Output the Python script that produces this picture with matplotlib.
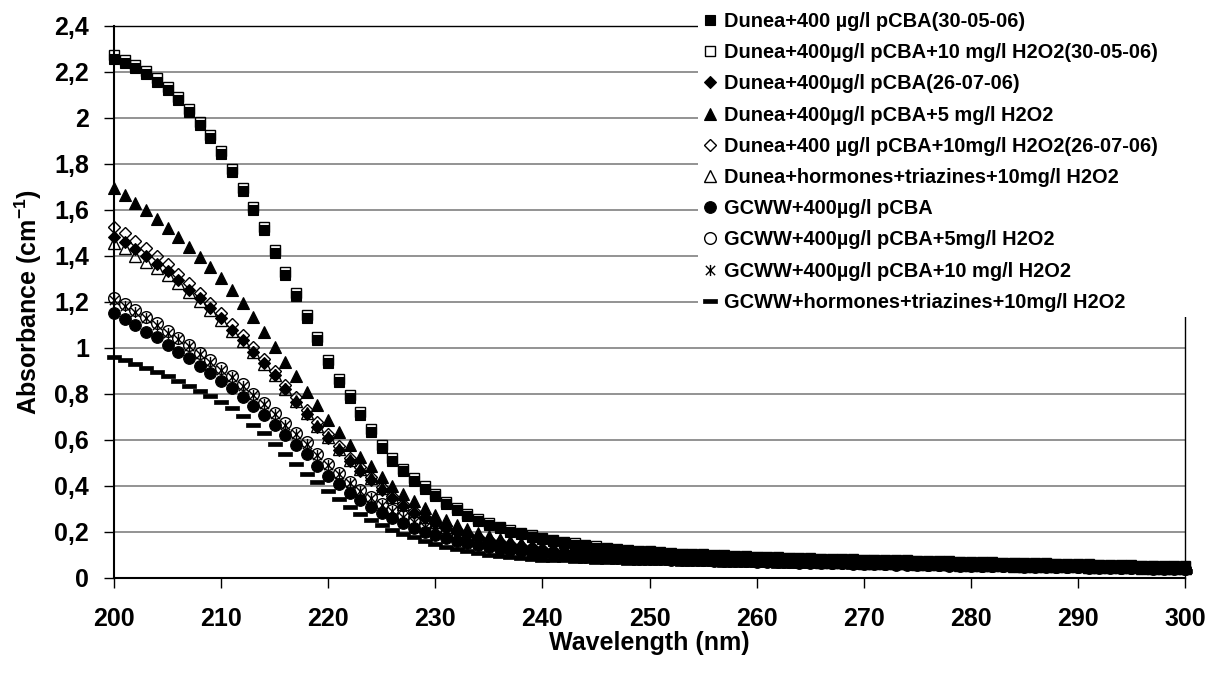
import matplotlib
matplotlib.use("Agg")
import matplotlib.pyplot as plt
from matplotlib.path import Path
from matplotlib.patches import Rectangle
import numpy as np

plt.rcParams['font.family'] = ['Liberation Sans', 'DejaVu Sans']
plt.rcParams['font.weight'] = 'bold'
plt.rcParams['mathtext.default'] = 'regular'

# Wavelength grid (nm), one reading per nanometre
wavelength = np.arange(200, 301)

x_ticks = [200, 210, 220, 230, 240, 250, 260, 270, 280, 290, 300]
y_ticks = [0, 0.2, 0.4, 0.6, 0.8, 1.0, 1.2, 1.4, 1.6, 1.8, 2.0, 2.2, 2.4]
y_tick_labels = ['0', '0,2', '0,4', '0,6', '0,8', '1', '1,2', '1,4', '1,6', '1,8', '2', '2,2', '2,4']

labels = [
    'Dunea+400 µg/l pCBA(30-05-06)',
    'Dunea+400µg/l pCBA+10 mg/l H2O2(30-05-06)',
    'Dunea+400µg/l pCBA(26-07-06)',
    'Dunea+400µg/l pCBA+5 mg/l H2O2',
    'Dunea+400 µg/l pCBA+10mg/l H2O2(26-07-06)',
    'Dunea+hormones+triazines+10mg/l H2O2',
    'GCWW+400µg/l pCBA',
    'GCWW+400µg/l pCBA+5mg/l H2O2',
    'GCWW+400µg/l pCBA+10 mg/l H2O2',
    'GCWW+hormones+triazines+10mg/l H2O2',
]

dunea_pcba_0530 = [
    2.254, 2.237, 2.215, 2.189, 2.157, 2.120, 2.077, 2.026, 1.968, 1.910,
    1.842, 1.765, 1.681, 1.599, 1.512, 1.412, 1.318, 1.225, 1.128, 1.033,
    0.932, 0.852, 0.780, 0.707, 0.635, 0.562, 0.507, 0.462, 0.421, 0.386,
    0.355, 0.320, 0.294, 0.268, 0.246, 0.229, 0.214, 0.200, 0.188, 0.177,
    0.167, 0.158, 0.150, 0.143, 0.137, 0.131, 0.126, 0.121, 0.117, 0.113,
    0.110, 0.107, 0.104, 0.101, 0.099, 0.097, 0.095, 0.093, 0.091, 0.089,
    0.088, 0.086, 0.085, 0.084, 0.082, 0.081, 0.080, 0.079, 0.078, 0.077,
    0.076, 0.075, 0.074, 0.073, 0.072, 0.071, 0.070, 0.069, 0.068, 0.067,
    0.066, 0.065, 0.064, 0.063, 0.062, 0.061, 0.060, 0.059, 0.058, 0.057,
    0.056, 0.055, 0.054, 0.053, 0.052, 0.051, 0.050, 0.049, 0.048, 0.047,
    0.046]

dunea_pcba_h2o2_10_0530 = [
    2.271, 2.252, 2.229, 2.203, 2.171, 2.134, 2.091, 2.040, 1.982, 1.923,
    1.855, 1.778, 1.694, 1.612, 1.525, 1.425, 1.331, 1.238, 1.141, 1.046,
    0.945, 0.865, 0.793, 0.720, 0.648, 0.575, 0.520, 0.474, 0.433, 0.397,
    0.366, 0.331, 0.304, 0.278, 0.255, 0.238, 0.222, 0.208, 0.195, 0.184,
    0.173, 0.164, 0.156, 0.149, 0.142, 0.136, 0.131, 0.126, 0.122, 0.118,
    0.114, 0.111, 0.108, 0.105, 0.103, 0.101, 0.099, 0.097, 0.095, 0.093,
    0.091, 0.090, 0.088, 0.087, 0.085, 0.084, 0.083, 0.082, 0.081, 0.080,
    0.079, 0.078, 0.077, 0.076, 0.075, 0.074, 0.073, 0.072, 0.071, 0.070,
    0.069, 0.068, 0.067, 0.066, 0.065, 0.064, 0.063, 0.062, 0.061, 0.060,
    0.059, 0.058, 0.057, 0.056, 0.055, 0.054, 0.053, 0.052, 0.051, 0.050,
    0.049]

dunea_pcba_0726 = [
    1.482, 1.461, 1.430, 1.398, 1.366, 1.333, 1.294, 1.253, 1.214, 1.171,
    1.128, 1.078, 1.033, 0.983, 0.932, 0.881, 0.820, 0.765, 0.713, 0.657,
    0.606, 0.555, 0.506, 0.466, 0.425, 0.383, 0.345, 0.312, 0.283, 0.258,
    0.236, 0.217, 0.200, 0.186, 0.173, 0.162, 0.152, 0.144, 0.136, 0.129,
    0.123, 0.118, 0.113, 0.109, 0.105, 0.102, 0.099, 0.096, 0.094, 0.092,
    0.090, 0.088, 0.086, 0.084, 0.083, 0.081, 0.080, 0.078, 0.077, 0.076,
    0.075, 0.074, 0.073, 0.072, 0.071, 0.070, 0.069, 0.068, 0.067, 0.066,
    0.065, 0.064, 0.063, 0.062, 0.061, 0.060, 0.059, 0.058, 0.057, 0.057,
    0.056, 0.055, 0.054, 0.053, 0.053, 0.052, 0.051, 0.050, 0.050, 0.049,
    0.048, 0.047, 0.047, 0.046, 0.045, 0.045, 0.044, 0.043, 0.043, 0.042,
    0.041]

dunea_pcba_h2o2_5 = [
    1.695, 1.664, 1.630, 1.599, 1.560, 1.519, 1.480, 1.437, 1.393, 1.351,
    1.304, 1.251, 1.193, 1.135, 1.070, 1.004, 0.939, 0.877, 0.809, 0.751,
    0.686, 0.635, 0.577, 0.526, 0.485, 0.439, 0.400, 0.365, 0.333, 0.302,
    0.273, 0.250, 0.229, 0.211, 0.195, 0.181, 0.169, 0.158, 0.149, 0.140,
    0.133, 0.126, 0.120, 0.115, 0.110, 0.106, 0.102, 0.099, 0.096, 0.093,
    0.091, 0.089, 0.087, 0.085, 0.084, 0.082, 0.081, 0.079, 0.078, 0.077,
    0.076, 0.075, 0.074, 0.073, 0.072, 0.071, 0.070, 0.069, 0.068, 0.067,
    0.066, 0.065, 0.064, 0.063, 0.062, 0.061, 0.060, 0.059, 0.058, 0.058,
    0.057, 0.056, 0.055, 0.054, 0.054, 0.053, 0.052, 0.051, 0.051, 0.050,
    0.049, 0.048, 0.048, 0.047, 0.046, 0.046, 0.045, 0.044, 0.044, 0.043,
    0.042]

dunea_pcba_h2o2_10_0726 = [
    1.525, 1.500, 1.466, 1.432, 1.398, 1.362, 1.322, 1.280, 1.240, 1.196,
    1.152, 1.101, 1.055, 1.004, 0.952, 0.900, 0.840, 0.784, 0.731, 0.675,
    0.623, 0.571, 0.521, 0.480, 0.438, 0.395, 0.356, 0.322, 0.292, 0.266,
    0.243, 0.223, 0.206, 0.191, 0.178, 0.166, 0.156, 0.147, 0.139, 0.132,
    0.126, 0.120, 0.115, 0.111, 0.107, 0.104, 0.101, 0.098, 0.096, 0.094,
    0.092, 0.090, 0.088, 0.086, 0.085, 0.083, 0.082, 0.080, 0.079, 0.078,
    0.077, 0.076, 0.075, 0.074, 0.073, 0.072, 0.071, 0.070, 0.069, 0.068,
    0.067, 0.066, 0.065, 0.064, 0.063, 0.062, 0.061, 0.060, 0.059, 0.058,
    0.057, 0.057, 0.056, 0.055, 0.054, 0.053, 0.053, 0.052, 0.051, 0.050,
    0.050, 0.049, 0.048, 0.047, 0.047, 0.046, 0.045, 0.045, 0.044, 0.043,
    0.042]

dunea_horm_triaz_h2o2 = [
    1.455, 1.432, 1.400, 1.372, 1.345, 1.315, 1.281, 1.243, 1.205, 1.163,
    1.122, 1.074, 1.030, 0.981, 0.931, 0.880, 0.821, 0.767, 0.716, 0.660,
    0.610, 0.560, 0.512, 0.472, 0.432, 0.391, 0.353, 0.320, 0.290, 0.264,
    0.241, 0.221, 0.204, 0.189, 0.176, 0.164, 0.154, 0.145, 0.137, 0.130,
    0.124, 0.119, 0.114, 0.110, 0.106, 0.103, 0.100, 0.097, 0.095, 0.093,
    0.091, 0.089, 0.087, 0.085, 0.084, 0.082, 0.081, 0.079, 0.078, 0.077,
    0.076, 0.075, 0.074, 0.073, 0.072, 0.071, 0.070, 0.069, 0.068, 0.067,
    0.066, 0.065, 0.064, 0.063, 0.062, 0.061, 0.060, 0.059, 0.058, 0.057,
    0.056, 0.056, 0.055, 0.054, 0.053, 0.052, 0.052, 0.051, 0.050, 0.049,
    0.049, 0.048, 0.047, 0.046, 0.046, 0.045, 0.044, 0.044, 0.043, 0.042,
    0.041]

gcww_pcba = [
    1.149, 1.123, 1.099, 1.070, 1.045, 1.012, 0.983, 0.954, 0.920, 0.889,
    0.855, 0.823, 0.787, 0.747, 0.707, 0.664, 0.620, 0.577, 0.537, 0.487,
    0.443, 0.406, 0.370, 0.338, 0.309, 0.280, 0.258, 0.236, 0.217, 0.200,
    0.185, 0.172, 0.160, 0.150, 0.141, 0.133, 0.126, 0.120, 0.114, 0.109,
    0.105, 0.101, 0.098, 0.095, 0.092, 0.090, 0.088, 0.086, 0.084, 0.083,
    0.081, 0.080, 0.078, 0.077, 0.076, 0.075, 0.074, 0.073, 0.072, 0.071,
    0.070, 0.069, 0.068, 0.067, 0.066, 0.065, 0.064, 0.063, 0.062, 0.061,
    0.060, 0.059, 0.058, 0.057, 0.057, 0.056, 0.055, 0.054, 0.053, 0.053,
    0.052, 0.051, 0.050, 0.050, 0.049, 0.048, 0.047, 0.047, 0.046, 0.045,
    0.045, 0.044, 0.043, 0.043, 0.042, 0.041, 0.041, 0.040, 0.040, 0.039,
    0.038]

gcww_pcba_h2o2_5 = [
    1.215, 1.190, 1.163, 1.133, 1.106, 1.072, 1.042, 1.012, 0.977, 0.945,
    0.910, 0.877, 0.841, 0.800, 0.760, 0.717, 0.672, 0.629, 0.588, 0.538,
    0.493, 0.455, 0.417, 0.383, 0.352, 0.320, 0.293, 0.268, 0.246, 0.226,
    0.208, 0.192, 0.178, 0.166, 0.155, 0.146, 0.138, 0.131, 0.124, 0.118,
    0.113, 0.108, 0.104, 0.101, 0.098, 0.095, 0.093, 0.091, 0.089, 0.087,
    0.085, 0.084, 0.082, 0.081, 0.080, 0.078, 0.077, 0.076, 0.075, 0.074,
    0.073, 0.072, 0.071, 0.070, 0.069, 0.068, 0.067, 0.066, 0.065, 0.064,
    0.063, 0.062, 0.061, 0.060, 0.059, 0.058, 0.057, 0.057, 0.056, 0.055,
    0.054, 0.053, 0.053, 0.052, 0.051, 0.050, 0.050, 0.049, 0.048, 0.047,
    0.047, 0.046, 0.045, 0.045, 0.044, 0.043, 0.043, 0.042, 0.041, 0.041,
    0.040]

gcww_pcba_h2o2_10 = [
    1.208, 1.183, 1.157, 1.127, 1.100, 1.066, 1.036, 1.006, 0.971, 0.939,
    0.904, 0.871, 0.835, 0.794, 0.754, 0.711, 0.666, 0.623, 0.582, 0.532,
    0.488, 0.450, 0.412, 0.378, 0.347, 0.316, 0.289, 0.264, 0.242, 0.222,
    0.205, 0.189, 0.175, 0.163, 0.153, 0.144, 0.136, 0.129, 0.122, 0.116,
    0.111, 0.107, 0.103, 0.100, 0.097, 0.094, 0.092, 0.090, 0.088, 0.086,
    0.084, 0.083, 0.081, 0.080, 0.079, 0.077, 0.076, 0.075, 0.074, 0.073,
    0.072, 0.071, 0.070, 0.069, 0.068, 0.067, 0.066, 0.065, 0.064, 0.063,
    0.062, 0.061, 0.060, 0.059, 0.058, 0.057, 0.057, 0.056, 0.055, 0.054,
    0.053, 0.053, 0.052, 0.051, 0.050, 0.050, 0.049, 0.048, 0.047, 0.047,
    0.046, 0.045, 0.045, 0.044, 0.043, 0.043, 0.042, 0.041, 0.041, 0.040,
    0.039]

gcww_horm_triaz_h2o2 = [
    0.958, 0.947, 0.929, 0.913, 0.895, 0.876, 0.855, 0.833, 0.813, 0.790,
    0.765, 0.737, 0.703, 0.664, 0.628, 0.582, 0.537, 0.494, 0.452, 0.415,
    0.378, 0.342, 0.308, 0.277, 0.252, 0.229, 0.208, 0.192, 0.176, 0.159,
    0.146, 0.134, 0.123, 0.114, 0.106, 0.099, 0.094, 0.089, 0.085, 0.082,
    0.079, 0.077, 0.075, 0.073, 0.071, 0.070, 0.068, 0.067, 0.066, 0.065,
    0.064, 0.063, 0.062, 0.061, 0.060, 0.059, 0.058, 0.057, 0.057, 0.056,
    0.055, 0.054, 0.053, 0.053, 0.052, 0.051, 0.050, 0.050, 0.049, 0.048,
    0.048, 0.047, 0.046, 0.046, 0.045, 0.044, 0.044, 0.043, 0.043, 0.042,
    0.041, 0.041, 0.040, 0.040, 0.039, 0.039, 0.038, 0.038, 0.037, 0.037,
    0.036, 0.036, 0.035, 0.035, 0.034, 0.034, 0.033, 0.033, 0.032, 0.032,
    0.031]

series = [dunea_pcba_0530, dunea_pcba_h2o2_10_0530, dunea_pcba_0726,
          dunea_pcba_h2o2_5, dunea_pcba_h2o2_10_0726, dunea_horm_triaz_h2o2,
          gcww_pcba, gcww_pcba_h2o2_5, gcww_pcba_h2o2_10, gcww_horm_triaz_h2o2]

# Custom markers: six-armed star (X plus vertical bar) and a flat dash
star_marker = Path([(-1, -1), (1, 1), (-1, 1), (1, -1), (0, -1.2), (0, 1.2)],
                   [Path.MOVETO, Path.LINETO, Path.MOVETO, Path.LINETO,
                    Path.MOVETO, Path.LINETO])
dash_marker = Path([(-1, -0.26), (1, -0.26), (1, 0.26), (-1, 0.26), (-1, -0.26)],
                   [Path.MOVETO, Path.LINETO, Path.LINETO, Path.LINETO, Path.CLOSEPOLY])

styles = [
    dict(marker='s', ms=7.8, mfc='black', mec='black', mew=0.8),
    dict(marker='s', ms=7.8, mfc='none', mec='black', mew=1.0),
    dict(marker='D', ms=5.9, mfc='black', mec='black', mew=0.8),
    dict(marker='^', ms=8.4, mfc='black', mec='black', mew=0.8),
    dict(marker='D', ms=5.9, mfc='none', mec='black', mew=1.0),
    dict(marker='^', ms=8.4, mfc='none', mec='black', mew=1.0),
    dict(marker='o', ms=8.4, mfc='black', mec='black', mew=0.8),
    dict(marker='o', ms=8.4, mfc='none', mec='black', mew=1.0),
    dict(marker=star_marker, ms=8.0, mfc='none', mec='black', mew=1.0),
    dict(marker=dash_marker, ms=10.0, mfc='black', mec='black', mew=0.5),
]

W, H = 1216, 682
fig = plt.figure(figsize=(W / 100, H / 100), dpi=100)
left, right, top, bottom = 114, 1185, 25.7, 577.7
ax = fig.add_axes([left / W, 1 - bottom / H, (right - left) / W, (bottom - top) / H])

handles = []
for vals, st, lab in zip(series, styles, labels):
    h, = ax.plot(wavelength, vals, linestyle='none', label=lab, clip_on=False,
                 zorder=3, **st)
    handles.append(h)

ax.set_xlim(200, 300)
ax.set_ylim(0, 2.4)
ax.set_xticks(x_ticks)
ax.set_xticklabels([str(t) for t in x_ticks])
ax.set_yticks(y_ticks)
ax.set_yticklabels(y_tick_labels)
ax.yaxis.grid(True, color='#808080', linewidth=1.2)
ax.set_axisbelow(True)

for s in ['left', 'bottom']:
    ax.spines[s].set_linewidth(1.5)
for s in ['top', 'right']:
    ax.spines[s].set_linewidth(1.0)
for s in ax.spines.values():
    s.set_color('black')

ax.tick_params(axis='x', direction='out', length=7, width=1, pad=14,
               labelsize=18, colors='black')
ax.tick_params(axis='y', direction='out', length=7, width=1, pad=11,
               labelsize=18, colors='black')
for lbl in ax.get_xticklabels() + ax.get_yticklabels():
    lbl.set_fontweight('bold')

fig.text((left + right) / 2 / W, 1 - 643 / H, 'Wavelength (nm)', ha='center',
         va='center', fontsize=18, fontweight='bold')
fig.text(28 / W, 1 - 302 / H, 'Absorbance (cm$^{-1}$)', ha='center', va='center',
         rotation=90, fontsize=18, fontweight='bold')

# White panel behind the legend, hiding grid lines and the frame beneath it
fig.patches.append(Rectangle((698 / W, 1 - 317 / H), (W - 698) / W, 317 / H,
                             transform=fig.transFigure, facecolor='white',
                             edgecolor='none', zorder=1))

fig.legend(handles, labels, loc='upper left', bbox_to_anchor=(703 / W, 1 - 12 / H),
           frameon=False, prop={'family': 'Liberation Sans', 'weight': 'bold', 'size': 14.4},
           handlelength=0.7, handletextpad=0.35, labelspacing=0.61, borderpad=0,
           borderaxespad=0, markerscale=1.0)

fig.savefig('out.png', dpi=100)
